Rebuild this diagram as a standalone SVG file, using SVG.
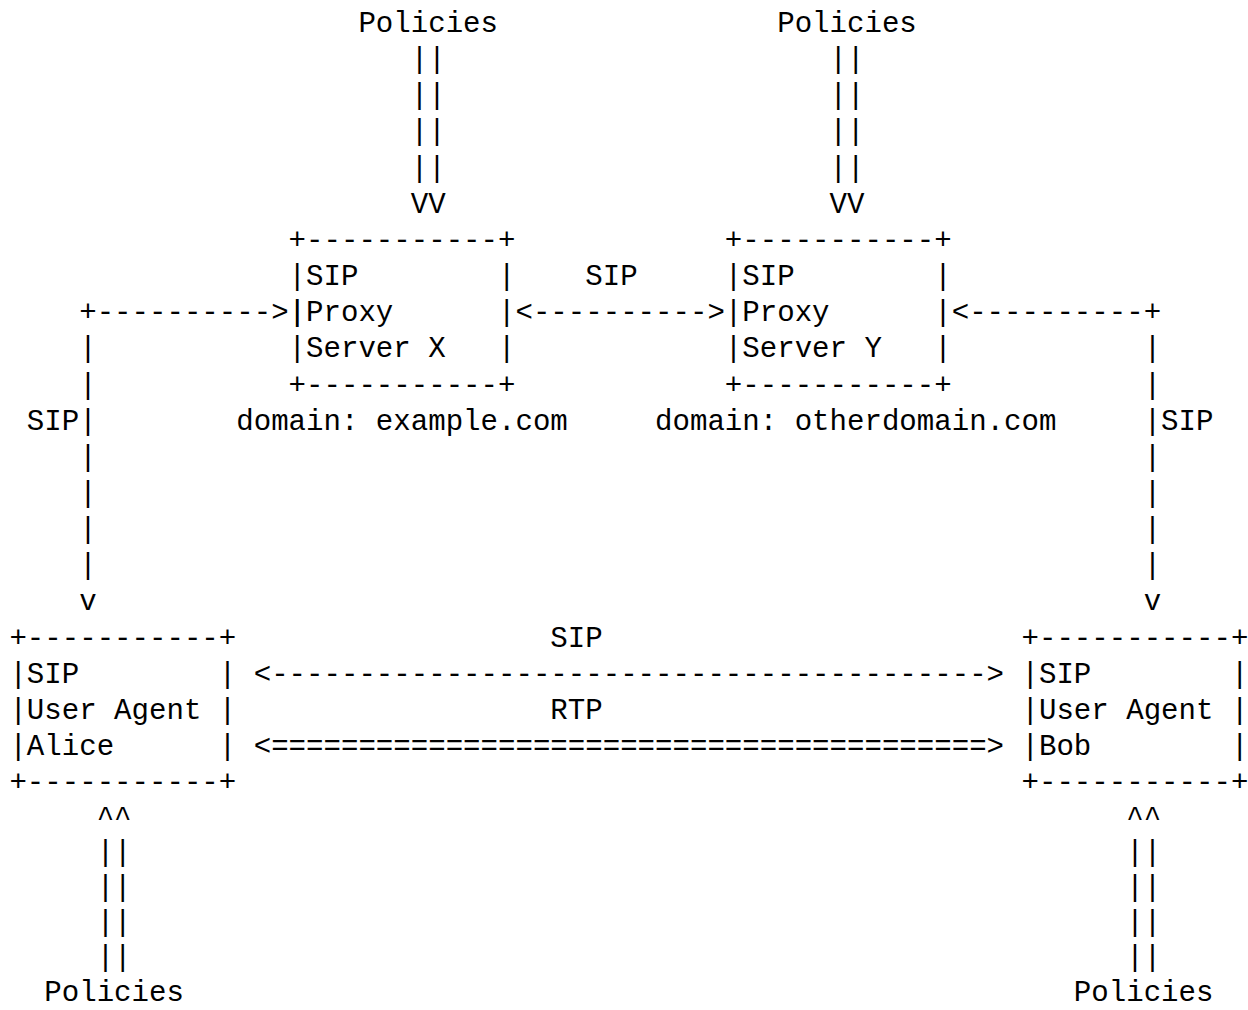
<svg xmlns="http://www.w3.org/2000/svg" width="1248" height="1010" viewBox="0 0 1248 1010" xml:space="preserve">
<style>
text { font-family: "Liberation Mono", "DejaVu Sans Mono", monospace; font-size: 29.08px; fill: #000; white-space: pre; }
</style>
<rect x="0" y="0" width="1248" height="1010" fill="#fff"/>
<g id="policies-x">
<text x="358.4" y="32">Policies</text>
</g>
<g id="policies-y">
<text x="777.2" y="32">Policies</text>
</g>
<g id="proxy-x">
<text x="288.6" y="248.9">+-----------+</text>
<text x="288.6" y="285.05">|SIP        |</text>
<text x="288.6" y="321.2">|Proxy      |</text>
<text x="288.6" y="357.35">|Server X   |</text>
<text x="288.6" y="393.5">+-----------+</text>
<text x="236.25" y="429.65">domain: example.com</text>
</g>
<g id="proxy-y">
<text x="724.85" y="248.9">+-----------+</text>
<text x="724.85" y="285.05">|SIP        |</text>
<text x="724.85" y="321.2">|Proxy      |</text>
<text x="724.85" y="357.35">|Server Y   |</text>
<text x="724.85" y="393.5">+-----------+</text>
<text x="655.05" y="429.65">domain: otherdomain.com</text>
</g>
<g id="ua-alice">
<text x="9.4" y="646.55">+-----------+</text>
<text x="9.4" y="682.7">|SIP        |</text>
<text x="9.4" y="718.85">|User Agent |</text>
<text x="9.4" y="755">|Alice      |</text>
<text x="9.4" y="791.15">+-----------+</text>
</g>
<g id="ua-bob">
<text x="1021.5" y="646.55">+-----------+</text>
<text x="1021.5" y="682.7">|SIP        |</text>
<text x="1021.5" y="718.85">|User Agent |</text>
<text x="1021.5" y="755">|Bob        |</text>
<text x="1021.5" y="791.15">+-----------+</text>
</g>
<g id="policies-alice">
<text x="44.3" y="1001.3">Policies</text>
</g>
<g id="policies-bob">
<text x="1073.85" y="1001.3">Policies</text>
</g>
<g id="connectors">
<text x="410.75" y="68.15">||</text>
<text x="410.75" y="104.3">||</text>
<text x="410.75" y="140.45">||</text>
<text x="410.75" y="176.6">||</text>
<text x="410.75" y="212.75">VV</text>
<text x="829.55" y="68.15">||</text>
<text x="829.55" y="104.3">||</text>
<text x="829.55" y="140.45">||</text>
<text x="829.55" y="176.6">||</text>
<text x="829.55" y="212.75">VV</text>
<text x="585.25" y="285.05">SIP</text>
<text x="79.2" y="321.2">+---------->|</text>
<text x="515.45" y="321.2">&lt;----------&gt;</text>
<text x="951.7" y="321.2">&lt;----------+</text>
<text x="79.2" y="357.35">|</text>
<text x="79.2" y="393.5">|</text>
<text x="26.85" y="429.65">SIP|</text>
<text x="79.2" y="465.8">|</text>
<text x="79.2" y="501.95">|</text>
<text x="79.2" y="538.1">|</text>
<text x="79.2" y="574.25">|</text>
<text x="79.2" y="610.4">v</text>
<text x="1143.65" y="357.35">|</text>
<text x="1143.65" y="393.5">|</text>
<text x="1143.65" y="429.65">|SIP</text>
<text x="1143.65" y="465.8">|</text>
<text x="1143.65" y="501.95">|</text>
<text x="1143.65" y="538.1">|</text>
<text x="1143.65" y="574.25">|</text>
<text x="1143.65" y="610.4">v</text>
<text x="550.35" y="646.55">SIP</text>
<text x="253.7" y="682.7">&lt;-----------------------------------------&gt;</text>
<text x="550.35" y="718.85">RTP</text>
<text x="253.7" y="755">&lt;=========================================&gt;</text>
<text x="96.65" y="826.18">^^</text>
<text x="96.65" y="861.2">||</text>
<text x="96.65" y="896.23">||</text>
<text x="96.65" y="931.25">||</text>
<text x="96.65" y="966.28">||</text>
<text x="1126.2" y="826.18">^^</text>
<text x="1126.2" y="861.2">||</text>
<text x="1126.2" y="896.23">||</text>
<text x="1126.2" y="931.25">||</text>
<text x="1126.2" y="966.28">||</text>
</g>
</svg>
